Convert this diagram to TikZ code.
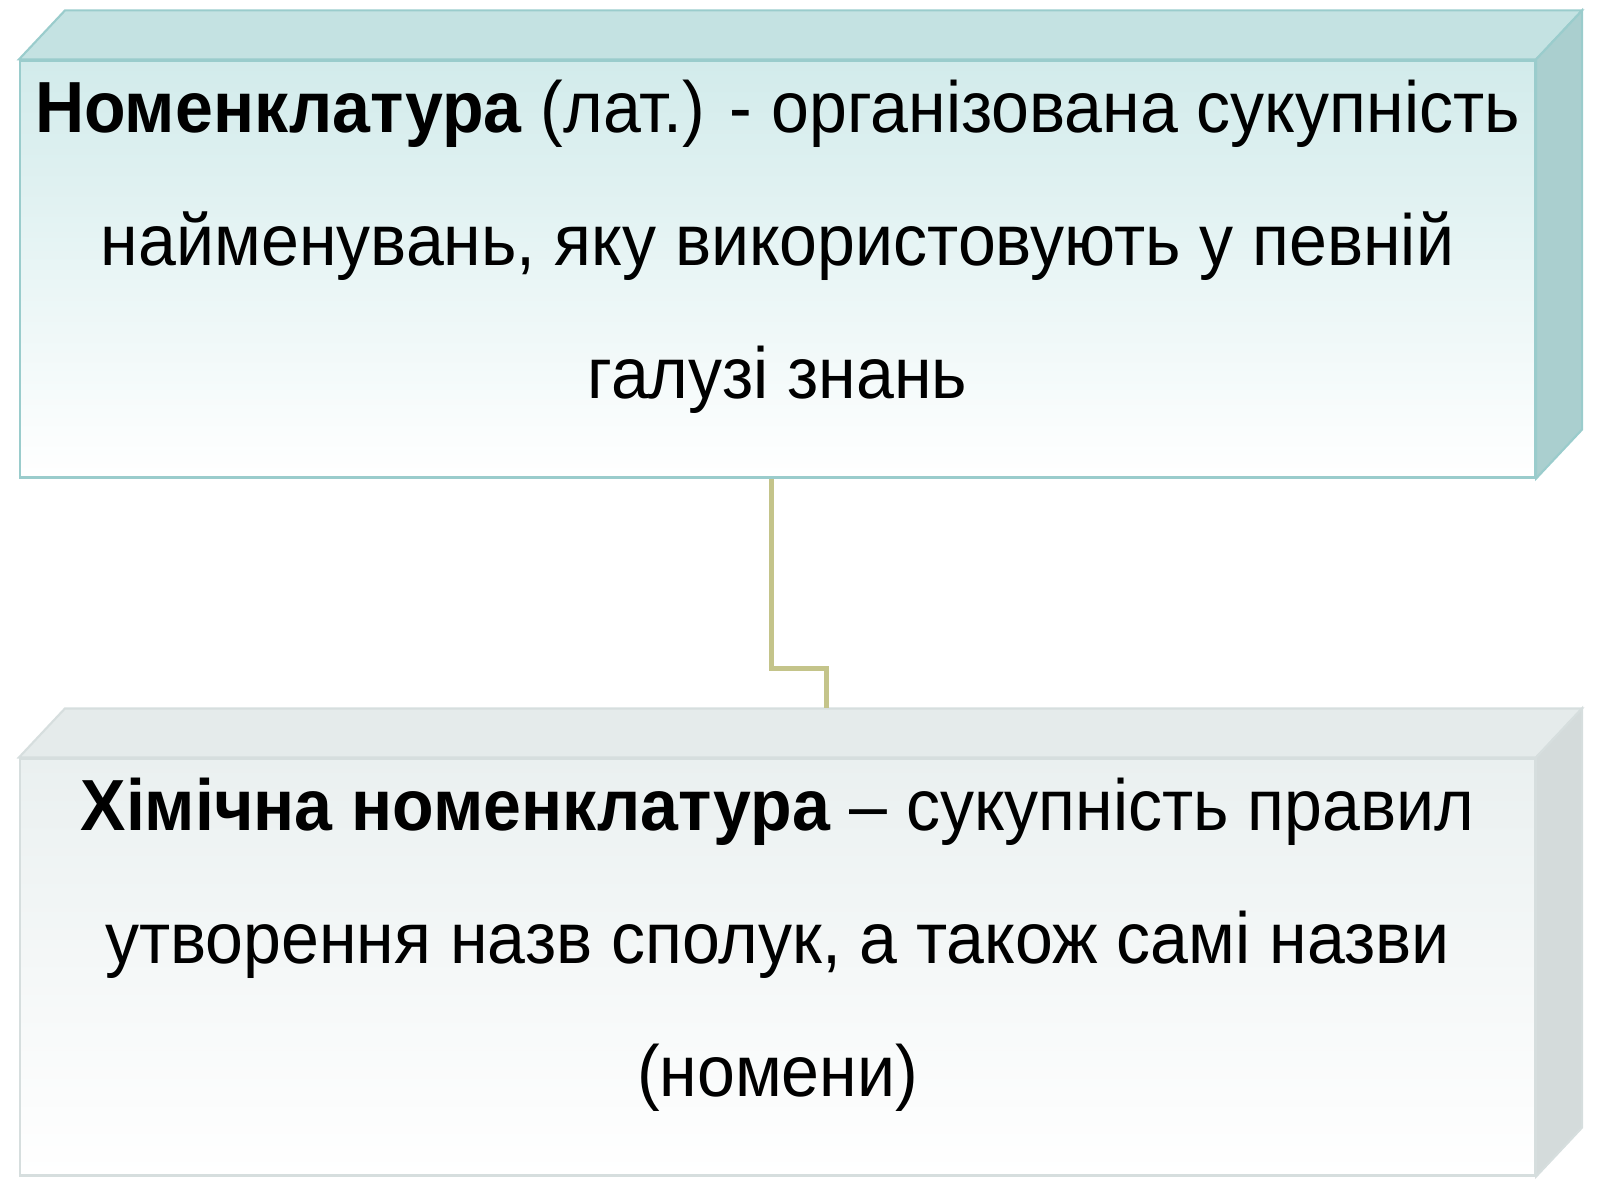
\documentclass[tikz,border=0pt]{standalone}
\usepackage{fontspec}
\setmainfont{Liberation Sans}[FakeStretch=0.94]
\usetikzlibrary{calc, positioning}
\definecolor{tealedge}{RGB}{154,204,204}
\definecolor{tealtop}{RGB}{196,226,226}
\definecolor{tealside}{RGB}{170,207,207}
\definecolor{tealfront}{RGB}{210,235,235}
\definecolor{greyedge}{RGB}{214,222,222}
\definecolor{greytop}{RGB}{229,235,235}
\definecolor{greyside}{RGB}{212,219,219}
\definecolor{greyfront}{RGB}{234,240,240}
\definecolor{linkolive}{RGB}{196,196,138}

\tikzset{
  face/.style={rectangle, minimum width=15.15cm, minimum height=4.17cm, inner sep=0pt,
    align=center, font=\fontsize{20.6}{37.8}\selectfont, text depth=0.6cm, line width=0.6pt},
  link/.style={draw=linkolive, line width=1.2pt},
}

\begin{document}
\begin{tikzpicture}
  \useasboundingbox (0,0) rectangle (16,12);

  \node [face, draw=tealedge, top color=tealfront, bottom color=white] (nomen) at (7.775, 9.31)
    {\textbf{Номенклатура} (лат.) - організована сукупність\\
     найменувань, яку використовують у певній\\
     галузі знань};
  \node [face, draw=greyedge, top color=greyfront, bottom color=white] (chem) at (7.775, 2.33)
    {\textbf{Хімічна номенклатура} – сукупність правил\\
     утворення назв сполук, а також самі назви\\
     (номени)};

  % top and side faces
  \foreach \b/\t/\s/\e in {nomen/tealtop/tealside/tealedge, chem/greytop/greyside/greyedge} {
    \draw [\e, fill=\t, line width=0.6pt] (\b.north west) -- ++(0.46,0.49)
      -- ($(\b.north east)+(0.46,0.49)$) -- (\b.north east) -- cycle;
    \draw [\e, fill=\s, line width=0.6pt] (\b.north east) -- ++(0.46,0.49)
      -- ($(\b.south east)+(0.46,0.49)$) -- (\b.south east) -- cycle;
  }

  \draw [link] ($(nomen.south)+(-0.06,0)$) -- ++(0,-1.9) -| ($(chem.north)+(0.49,0.49)$);
\end{tikzpicture}
\end{document}
